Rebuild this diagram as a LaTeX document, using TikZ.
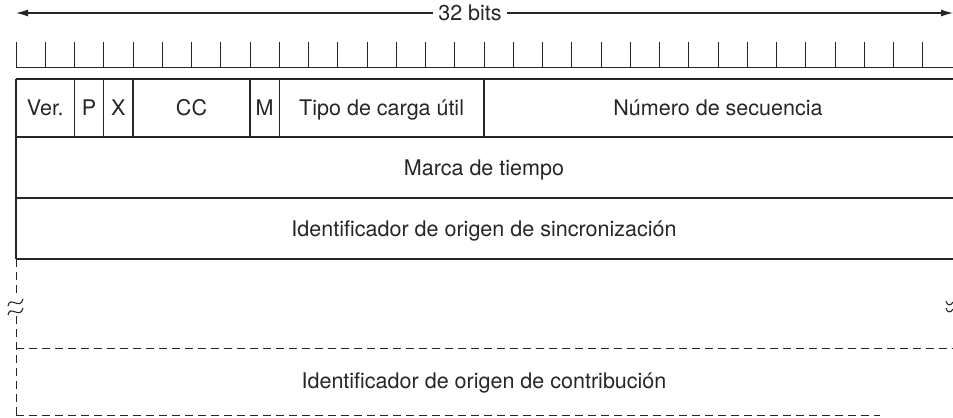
\documentclass[tikz,border=0pt]{standalone}
\usepackage{fontspec}
\setmainfont{TeX Gyre Heros}
\usetikzlibrary{arrows.meta}

\def\bw{29.25}

\begin{document}
\begin{tikzpicture}[
  x=1bp, y=-1bp,
  font=\fontsize{21.6}{25}\selectfont,
  >={Latex[length=12bp,width=7bp]},
  rule/.style={line width=1.1bp, black!85},
  tick/.style={line width=0.9bp, black!85},
  brk/.style={line width=1bp, black!85, dash pattern=on 8bp off 5bp},
  lbl/.style={anchor=base, inner sep=0pt, text=black!85},
]
\useasboundingbox (0,0) rectangle (953,417);

% width arrow
\coordinate (lend) at (16,13);
\coordinate (rend) at (953,13);
\node[fill=white, inner xsep=5bp, inner ysep=2bp, text=black!85] (bits) at (470,13) {32 bits};
\draw[rule,->] (bits) -- (lend);
\draw[rule,->] (bits) -- (rend);

% bit ruler
\foreach \i in {0,...,31}
  \draw[tick] ({16+\i*\bw},42) -- ++(0,25);
\draw[tick] (16,67) -- (953,67);

% header rows
\foreach \y in {79,137,198,259}
  \draw[rule] (16,\y) -- (953,\y);
\draw[rule] (16,79) -- (16,259);
\foreach \b in {2,3,4,8,9,16}
  \draw[rule] ({16+\b*\bw},79) -- ({16+\b*\bw},137);

\node[lbl] (ver)  at ({16+1*\bw},115.5)   {Ver.};
\node[lbl] (pad)  at ({16+2.5*\bw},115.5) {P};
\node[lbl] (ext)  at ({16+3.5*\bw},115.5) {X};
\node[lbl] (cc)   at ({16+6*\bw},115.5)   {CC};
\node[lbl] (mark) at ({16+8.5*\bw},115.5) {M};
\node[lbl] (tipo) at ({16+12.5*\bw},115.5) {Tipo de carga útil};
\node[lbl] (seq)  at ({16+24*\bw},115.5)  {Número de secuencia};
\node[lbl] (ts)   at (484,175)   {Marca de tiempo};
\node[lbl] (ssrc) at (484,236)   {Identificador de origen de sincronización};

% optional part
\draw[brk] (16,259) -- (16,295);
\draw[brk] (16,316) -- (16,417);
\draw[rule] (8,306) .. controls (10,295) and (20,311) .. (23,299);
\draw[rule] (8,315) .. controls (10,304) and (20,320) .. (23,308);
\draw[rule] (946,301) .. controls (947,306) and (951,306) .. (953,302);
\draw[rule] (946,308) .. controls (947,313) and (951,313) .. (953,309);
\draw[brk] (16,348) -- (953,348);
\draw[brk] (16,415) -- (880,415);
\node[lbl] (csrc) at (484,388.5) {Identificador de origen de contribución};
\end{tikzpicture}
\end{document}
